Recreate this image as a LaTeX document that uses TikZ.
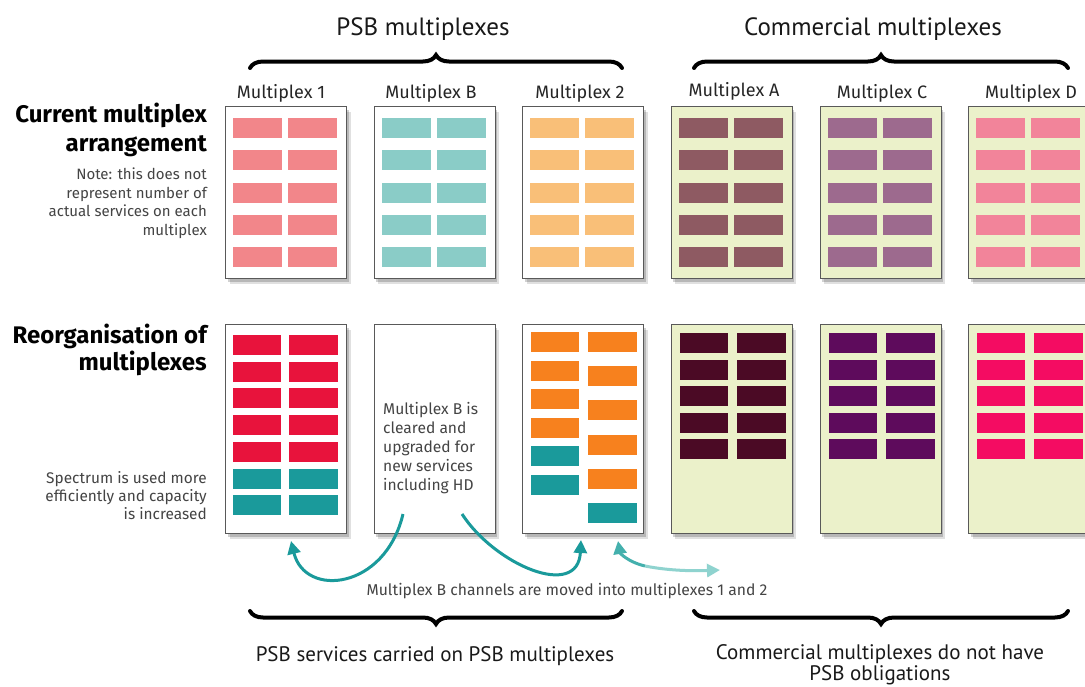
\documentclass[tikz,border=0pt]{standalone}
\usepackage{fontspec}
\setmainfont{Fira Sans}
\newfontfamily\grpfont{PT Sans}
\usetikzlibrary{arrows.meta,shadows,decorations.pathreplacing}
\definecolor{tonec}{HTML}{F2868A}
\definecolor{tBc}{HTML}{8ACCC7}
\definecolor{ttwoc}{HTML}{F9BF78}
\definecolor{tAc}{HTML}{8E5A62}
\definecolor{tCc}{HTML}{9D6A8E}
\definecolor{tDc}{HTML}{F2849A}
\definecolor{bonec}{HTML}{E8133C}
\definecolor{tealc}{HTML}{1A9A9B}
\definecolor{btwoc}{HTML}{F7811E}
\definecolor{bAc}{HTML}{4B0A25}
\definecolor{bCc}{HTML}{5E0B5C}
\definecolor{bDc}{HTML}{F40C62}
\definecolor{comfill}{HTML}{EBF1CA}
\definecolor{lightteal}{HTML}{8FD3CF}
\definecolor{midteal}{HTML}{4FB5B2}
\definecolor{txt}{HTML}{444444}
\begin{document}
\begin{tikzpicture}[x=1pt,y=-1pt,
  mbox/.style={draw=black!65, line width=1.3pt, fill=white, anchor=north west, inner sep=0pt,
    minimum width=121pt,
    drop shadow={shadow xshift=4pt, shadow yshift=-5pt, opacity=0.12, fill=black},
    drop shadow={shadow xshift=2pt, shadow yshift=-3pt, opacity=0.18, fill=black}},
  topbox/.style={mbox, minimum height=172pt},
  botbox/.style={mbox, minimum height=209pt},
  combox/.style={fill=comfill},
  lbl/.style={anchor=base, inner sep=0pt, font=\fontsize{18}{20}\selectfont, text=black!85},
  head/.style={anchor=base east, inner sep=0pt, align=right, font=\fontsize{24}{29}\selectfont\bfseries},
  small/.style={inner sep=0pt, font=\fontsize{15}{18.5}\selectfont, text=txt},
  big/.style={anchor=base, inner sep=0pt, font=\grpfont\fontsize{25}{27}\selectfont, text=black!90},
  bottxt/.style={anchor=base, inner sep=0pt, align=center, font=\grpfont\fontsize{21}{20.5}\selectfont, text=black!90},
  bracestyle/.style={decorate, decoration={brace, amplitude=13pt}, line width=4pt, line cap=round},
  mvarrow/.style={draw=tealc, line width=3pt, -{Triangle[length=13pt,width=13pt]}},
]
\useasboundingbox (0,0) rectangle (1085,686);
\fill[white] (0,0) rectangle (1085,686);

% ---------- top row boxes ----------
\node[topbox] (t1) at (225,106) {};
\node[topbox] (tB) at (373.5,106) {};
\node[topbox] (t2) at (522,106) {};
\node[topbox, combox] (tA) at (670.5,106) {};
\node[topbox, combox] (tC) at (819.5,106) {};
\node[topbox, combox] (tD) at (968,106) {};

\foreach \bx/\cc in {225/tonec, 373.5/tBc, 522/ttwoc, 670.5/tAc, 819.5/tCc, 968/tDc}{
  \foreach \i in {0,...,4}{
    \fill[\cc] (\bx+8, 118+32.3*\i) rectangle +(49,20);
    \fill[\cc] (\bx+63, 118+32.3*\i) rectangle +(49,20);
  }
}

% ---------- bottom row boxes ----------
\node[botbox] (b1) at (225,324) {};
\node[botbox] (bB) at (373.5,324) {};
\node[botbox] (b2) at (522,324) {};
\node[botbox, combox] (bA) at (670.5,324) {};
\node[botbox, combox] (bC) at (819.5,324) {};
\node[botbox, combox] (bD) at (968,324) {};

% multiplex 1 reorganised
\foreach \i in {0,...,4}{
  \fill[bonec] (233, 335+26.7*\i) rectangle +(48,20);
  \fill[bonec] (289, 335+26.7*\i) rectangle +(49,20);
}
\foreach \i in {5,6}{
  \fill[tealc] (233, 335+26.7*\i) rectangle +(48,20);
  \fill[tealc] (289, 335+26.7*\i) rectangle +(49,20);
}
% multiplex 2 reorganised
\foreach \i in {0,...,3}{
  \fill[btwoc] (531, 332+28.6*\i) rectangle +(48,20);
}
\foreach \i in {4,5}{
  \fill[tealc] (531, 332+28.6*\i) rectangle +(48,20);
}
\foreach \i in {0,...,4}{
  \fill[btwoc] (588, 332+34.2*\i) rectangle +(49,20);
}
\fill[tealc] (588, 332+34.2*5) rectangle +(49,20);
% commercial reorganised
\foreach \bx/\cc in {670.5/bAc, 819.5/bCc, 968/bDc}{
  \foreach \i in {0,...,4}{
    \fill[\cc] (\bx+9, 333+26.6*\i) rectangle +(48,20);
    \fill[\cc] (\bx+66, 333+26.6*\i) rectangle +(49,20);
  }
}

% ---------- labels ----------
\node[lbl] (l1) at (281,98) {Multiplex 1};
\node[lbl] (lB) at (431,98) {Multiplex B};
\node[lbl] (l2) at (580,98) {Multiplex 2};
\node[lbl] (lA) at (734,96) {Multiplex A};
\node[lbl] (lC) at (882,98) {Multiplex C};
\node[lbl] (lD) at (1031,98) {Multiplex D};

\node[head] (h1) at (207,151) {Current multiplex\\arrangement};
\node[small, anchor=base east, align=right] (note) at (207,235) {Note: this does not\\represent number of\\actual services on each\\multiplex};
\node[head, font=\fontsize{24}{27}\selectfont\bfseries] (h2) at (207,370) {Reorganisation of\\multiplexes};
\node[small, anchor=base east, align=right, font=\fontsize{15.4}{18}\selectfont] (spec) at (207,519) {Spectrum is used more\\efficiently and capacity\\is increased};
\node[small, anchor=base west, align=left, font=\fontsize{15.6}{18.8}\selectfont] (btxt) at (383,490) {Multiplex B is\\cleared and\\upgraded for\\new services\\including HD};

% ---------- braces and group texts ----------
\coordinate (psbL) at (250,68);
\coordinate (psbR) at (622,68);
\coordinate (comL) at (694,68);
\coordinate (comR) at (1068,68);
\draw[bracestyle] (psbL) -- (psbR);
\draw[bracestyle] (comL) -- (comR);
\node[big] (psbt) at (423,35) {PSB multiplexes};
\node[big] (comt) at (873,35) {Commercial multiplexes};

\coordinate (psbL2) at (250,611);
\coordinate (psbR2) at (622,611);
\coordinate (comL2) at (694,611);
\coordinate (comR2) at (1068,611);
\draw[bracestyle] (psbR2) -- (psbL2);
\draw[bracestyle] (comR2) -- (comL2);
\node[bottxt] (psbb) at (435,661) {PSB services carried on PSB multiplexes};
\node[bottxt] (comb) at (880,680) {Commercial multiplexes do not have\\PSB obligations};

% ---------- arrows ----------
\coordinate (s1) at (403,514);
\coordinate (e1) at (291,541);
\coordinate (s2) at (462,514);
\coordinate (e2) at (581,540);
\coordinate (e3a) at (618,541);
\coordinate (m3) at (645,566);
\coordinate (e3b) at (720,570);
\draw[mvarrow] (s1) .. controls (385,590) and (305,598) .. (e1);
\draw[mvarrow] (s2) .. controls (495,565) and (578,600) .. (e2);
\draw[mvarrow, draw=midteal!80!tealc] (m3) .. controls (628,562) and (620,553) .. (e3a);
\draw[mvarrow, draw=lightteal] (m3) .. controls (670,571) and (695,571) .. (e3b);
\node[small, anchor=base, font=\fontsize{15.7}{17}\selectfont] (mvt) at (567,595) {Multiplex B channels are moved into multiplexes 1 and 2};
\end{tikzpicture}
\end{document}
